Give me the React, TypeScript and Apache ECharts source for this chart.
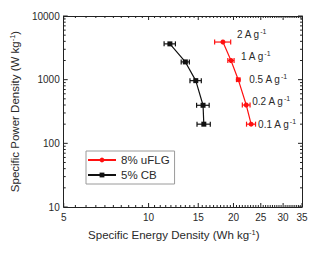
import React, { useEffect, useRef } from "react";
import * as echarts from "echarts";

const energyFLG = [18.35, 19.6, 20.8, 22.2, 23.1];
const powerFLG = [3900, 2000, 1000, 400, 200];
const errFLG = [1.2, 0.5, 0.3, 0.7, 0.85];
const energyCB = [11.9, 13.5, 14.7, 15.6, 15.7];
const powerCB = [3650, 1900, 965, 396, 200];
const errCB = [0.55, 0.45, 0.68, 0.8, 0.85];
const rateLabels = ["2", "1", "0.5", "0.2", "0.1"];
const xTickLabels = [5, 10, 15, 20, 25, 30, 35];
const yTickLabels = [10, 100, 1000, 10000];

// styling (not data)
const labelOffsets = [
  [11.5, -8],
  [7.5, -4],
  [8.5, 0],
  [3.5, -3.5],
  [4.5, 0],
];

const FONT = "Liberation Sans, Arial, sans-serif";
const RED = "#ff1010";
const BLACK = "#111111";
const TXT = "#2a2a2a";

function buildTicks() {
  const items: number[][] = [];
  for (let i = 0; i < xTickLabels.length; i++) items.push([xTickLabels[i], 100, 0]);
  for (let i = 0; i < xTickLabels.length - 1; i++) {
    const a = xTickLabels[i];
    for (let k = 1; k < 10; k++) items.push([a + k * 0.5, 100, 1]);
  }
  for (let i = 0; i < xTickLabels.length; i++) items.push([xTickLabels[i], 100, 4]);
  for (let i = 0; i < yTickLabels.length; i++) items.push([10, yTickLabels[i], 2]);
  for (let i = 0; i < yTickLabels.length - 1; i++) {
    for (let m = 2; m <= 9; m++) items.push([10, yTickLabels[i] * m, 3]);
  }
  return items;
}

export default function App() {
  const ref = useRef<HTMLDivElement>(null);
  useEffect(() => {
    if (!ref.current) return;
    const chart = echarts.init(ref.current, null, { renderer: "svg" });

    const errRender = (color: string) => (params: any, api: any) => {
      const c = api.value(0);
      const p = api.value(1);
      const e = api.value(2);
      const a = api.coord([c - e, p]);
      const b = api.coord([c + e, p]);
      const st = { stroke: color, lineWidth: 1.2 };
      return {
        type: "group",
        children: [
          { type: "line", shape: { x1: a[0], y1: a[1], x2: b[0], y2: b[1] }, style: st },
          { type: "line", shape: { x1: a[0], y1: a[1] - 2.5, x2: a[0], y2: a[1] + 2.5 }, style: st },
          { type: "line", shape: { x1: b[0], y1: b[1] - 2.5, x2: b[0], y2: b[1] + 2.5 }, style: st },
        ],
      };
    };

    const tickRender = (params: any, api: any) => {
      const cs = params.coordSys;
      const kind = api.value(2);
      const pt = api.coord([api.value(0), api.value(1)]);
      const st = { stroke: "#222", lineWidth: 1 };
      const top = cs.y;
      const bottom = cs.y + cs.height;
      const left = cs.x;
      const right = cs.x + cs.width;
      if (kind === 0 || kind === 1) {
        const len = kind === 0 ? 4 : 2;
        return {
          type: "group",
          children: [
            { type: "line", shape: { x1: pt[0], y1: bottom, x2: pt[0], y2: bottom - len }, style: st },
            { type: "line", shape: { x1: pt[0], y1: top, x2: pt[0], y2: top + len }, style: st },
          ],
        };
      }
      if (kind === 2 || kind === 3) {
        const len = kind === 2 ? 4 : 2;
        return {
          type: "group",
          children: [
            { type: "line", shape: { x1: left, y1: pt[1], x2: left + len, y2: pt[1] }, style: st },
            { type: "line", shape: { x1: right, y1: pt[1], x2: right - len, y2: pt[1] }, style: st },
          ],
        };
      }
      return {
        type: "text",
        x: pt[0],
        y: bottom + 5,
        style: {
          text: String(api.value(0)),
          textAlign: "center",
          textVerticalAlign: "top",
          fontSize: 10,
          fontFamily: FONT,
          fill: TXT,
        },
      };
    };

    const rich = {
      a: { fontSize: 11.5, fontFamily: FONT, color: TXT },
      s: { fontSize: 7.5, fontFamily: FONT, color: TXT, padding: [0, 0, 6, 0] },
    };
    const richLbl = {
      a: { fontSize: 10, fontFamily: FONT, color: TXT },
      s: { fontSize: 7, fontFamily: FONT, color: TXT, padding: [0, 0, 6, 0] },
    };

    chart.setOption({
      animation: false,
      textStyle: { fontFamily: FONT },
      grid: { left: 63, right: 19, top: 16, bottom: 46 },
      legend: {
        data: ["8% uFLG", "5% CB"],
        orient: "vertical",
        left: 86,
        top: 151,
        padding: [3, 5, 3, 1],
        itemGap: 3,
        itemWidth: 28,
        itemHeight: 6,
        borderColor: "#9a9a9a",
        borderWidth: 1,
        backgroundColor: "#fff",
        textStyle: { fontSize: 11.5, color: TXT, fontFamily: FONT },
      },
      xAxis: [
        {
          type: "log",
          logBase: 10,
          min: 5,
          max: 35,
          name: "{a|Specific Energy Density (Wh kg}{s|-1}{a|)}",
          nameLocation: "middle",
          nameGap: 21,
          nameTextStyle: { rich, padding: [0, 18, 0, 0] },
          axisLine: { show: true, lineStyle: { color: "#222", width: 1 } },
          axisTick: { show: false },
          axisLabel: { show: false },
          splitLine: { show: false },
        },
        {
          type: "log",
          logBase: 10,
          min: 5,
          max: 35,
          position: "top",
          axisLine: { show: true, lineStyle: { color: "#222", width: 1 } },
          axisTick: { show: false },
          axisLabel: { show: false },
          splitLine: { show: false },
        },
      ],
      yAxis: [
        {
          type: "log",
          logBase: 10,
          min: 10,
          max: 10000,
          name: "{a|Specific Power Density (W kg}{s|-1}{a|)}",
          nameLocation: "middle",
          nameGap: 27,
          nameRotate: 90,
          nameTextStyle: { rich },
          axisLine: { show: true, lineStyle: { color: "#222", width: 1 } },
          axisTick: { show: false },
          axisLabel: {
            fontSize: 10,
            color: TXT,
            margin: 4,
            fontFamily: FONT,
            formatter: (v: number) => String(Math.round(v)),
          },
          splitLine: { show: false },
        },
        {
          type: "log",
          logBase: 10,
          min: 10,
          max: 10000,
          position: "right",
          axisLine: { show: true, lineStyle: { color: "#222", width: 1 } },
          axisTick: { show: false },
          axisLabel: { show: false },
          splitLine: { show: false },
        },
      ],
      series: [
        {
          name: "ticks",
          type: "custom",
          silent: true,
          renderItem: tickRender,
          data: buildTicks(),
          encode: { x: 0, y: 1 },
          z: 1,
        },
        {
          name: "errFLG",
          type: "custom",
          silent: true,
          renderItem: errRender(RED),
          data: energyFLG.map((v, i) => [v, powerFLG[i], errFLG[i]]),
          encode: { x: 0, y: 1 },
          z: 3,
        },
        {
          name: "errCB",
          type: "custom",
          silent: true,
          renderItem: errRender(BLACK),
          data: energyCB.map((v, i) => [v, powerCB[i], errCB[i]]),
          encode: { x: 0, y: 1 },
          z: 3,
        },
        {
          name: "8% uFLG",
          type: "line",
          symbol: "circle",
          symbolSize: 5,
          itemStyle: { color: RED },
          lineStyle: { color: RED, width: 1.2 },
          z: 4,
          label: {
            show: true,
            position: "right",
            distance: 0,
            formatter: (p: any) => `{a|${rateLabels[p.dataIndex]} A g}{s|-1}`,
            rich: richLbl,
          },
          data: energyFLG.map((v, i) => ({
            value: [v, powerFLG[i]],
            label: { offset: labelOffsets[i] },
          })),
        },
        {
          name: "5% CB",
          type: "line",
          symbol: "rect",
          symbolSize: 5,
          itemStyle: { color: BLACK },
          lineStyle: { color: BLACK, width: 1.2 },
          z: 4,
          data: energyCB.map((v, i) => [v, powerCB[i]]),
        },
      ],
    });
    return () => chart.dispose();
  }, []);
  return (
    <div
      ref={ref}
      style={{ position: "absolute", left: 0, top: 0, width: 321, height: 253 }}
    />
  );
}
